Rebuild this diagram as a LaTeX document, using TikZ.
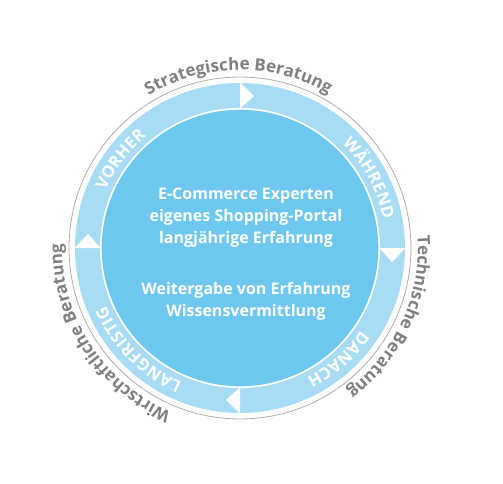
\documentclass[tikz,border=0pt]{standalone}
\usepackage{fontspec}
\setmainfont{Open Sans}
\usetikzlibrary{decorations.text}

\definecolor{ringblue}{HTML}{A8DBF4}
\definecolor{coreblue}{HTML}{6EC7EE}
\definecolor{labelgray}{HTML}{7F7F7F}
\definecolor{rimgray}{HTML}{ABABAB}

\begin{document}
\begin{tikzpicture}[x=1pt,y=1pt,
  ringlabel/.style={decorate,decoration={text along path,text align=center,
    text format delimiters={|}{|},
    text={|\fontsize{16.5}{17}\selectfont\bfseries\color{white}\kern0.3pt|#1}}},
  outerlabel/.style={decorate,decoration={text along path,text align=center,
    text format delimiters={|}{|},
    text={|\fontsize{17}{17}\selectfont\bfseries\color{labelgray}|#1}}}]
  \useasboundingbox (-240,-235) rectangle (263,248);

  % rim and ring
  \draw[rimgray,line width=0.8pt] (0,0) circle (171);
  \fill[ringblue] (0,0) circle (165);
  \fill[white] (0,0) circle (140);
  \fill[coreblue] (0,0) circle (138.3);

  % arrow notches between the phases
  \foreach \a in {90,0,-90,180}
    \fill[white] (\a:139.5) -- (\a:165.5) -- (\a-5.3:152.5) -- cycle;

  % phases on the ring
  \path[ringlabel=VORHER] (183.5:146) arc[start angle=183.5,end angle=103.5,radius=146];
  \path[ringlabel=WÄHREND] (68.5:146) arc[start angle=68.5,end angle=-11.5,radius=146];
  \path[ringlabel=DANACH] (-8.5:146) arc[start angle=-8.5,end angle=-88.5,radius=146];
  \path[ringlabel=LANGFRISTIG] (265:146) arc[start angle=265,end angle=185,radius=146];

  % consulting fields outside
  \path[outerlabel=Strategische Beratung] (140.5:178) arc[start angle=140.5,end angle=40.5,radius=178];
  \path[outerlabel=Technische Beratung] (25.5:178) arc[start angle=25.5,end angle=-74.5,radius=178];
  \path[outerlabel=Wirtschaftliche Beratung] (263:178) arc[start angle=263,end angle=163,radius=178];

  \node[text=white,font=\fontsize{16}{22}\selectfont\bfseries,align=center] (core) at (6,-6)
    {E-Commerce Experten\\eigenes Shopping-Portal\\langjährige Erfahrung\\[29pt]
     Weitergabe von Erfahrung\\Wissensvermittlung};
\end{tikzpicture}
\end{document}
